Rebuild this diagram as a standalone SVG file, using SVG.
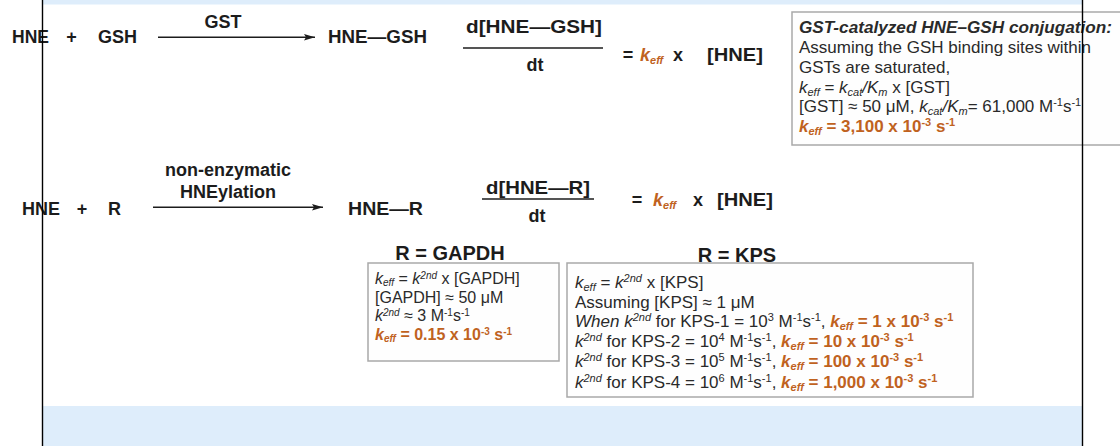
<svg xmlns="http://www.w3.org/2000/svg" width="1120" height="446" viewBox="0 0 1120 446">
<style>
text { font-family: "Liberation Sans", Arial, sans-serif; fill: #1c1c1c; }
.b { font-weight: bold; font-size: 18px; }
.bt { font-weight: bold; font-size: 20px; }
.t { font-size: 17px; fill: #2a2a2a; }
.g { font-size: 16px; fill: #2a2a2a; }
.o { fill: #c0621e; font-weight: bold; }
.i { font-style: italic; }
.s { font-size: 11px; }
.s2 { font-size: 10px; }
.box { fill: #fefefe; stroke: #a9a9a9; stroke-width: 1.5; }
.bar { stroke: #1c1c1c; stroke-width: 1.6; }
.arr { stroke: #1c1c1c; stroke-width: 1.4; fill: none; marker-end: url(#ah); }
.frame { stroke: #000; stroke-width: 1.4; }
</style>
<defs>
<marker id="ah" markerWidth="12" markerHeight="8" refX="11" refY="4" orient="auto" markerUnits="userSpaceOnUse">
<path d="M0,0.8 L11,4 L0,7.2 L2,4 Z" fill="#1c1c1c"/>
</marker>
</defs>
<rect width="1120" height="446" fill="#ffffff"/>
<rect x="43" y="0" width="1039" height="4.5" fill="#deedfb"/>
<rect x="43" y="406" width="1039" height="40" fill="#deedfb"/>

<g id="reaction1">
<text class="b" x="12" y="43" textLength="37" lengthAdjust="spacingAndGlyphs">HNE</text>
<text class="b" x="71.5" y="43" text-anchor="middle">+</text>
<text class="b" x="98" y="43" textLength="39" lengthAdjust="spacingAndGlyphs">GSH</text>
<text class="b" x="223" y="28" text-anchor="middle">GST</text>
<text class="b" x="328" y="43" textLength="99" lengthAdjust="spacingAndGlyphs">HNE—GSH</text>
</g>

<g id="rate1">
<text class="b" x="466" y="33" textLength="136" lengthAdjust="spacingAndGlyphs">d[HNE—GSH]</text>
<line class="bar" x1="463" y1="48" x2="603" y2="48"/>
<text class="b" x="535" y="71" text-anchor="middle">dt</text>
<text class="b" x="628" y="61" text-anchor="middle">=</text>
<text class="b o i" x="640" y="61">k<tspan class="s" dy="3">eff</tspan></text>
<text class="b" x="678" y="61" text-anchor="middle">x</text>
<text class="b" x="707" y="61" textLength="56" lengthAdjust="spacingAndGlyphs">[HNE]</text>
</g>

<g id="gst-box">
<rect class="box" x="792" y="12" width="340" height="133"/>
<text class="t i" x="799" y="33" font-weight="bold" fill="#1c1c1c" textLength="313" lengthAdjust="spacingAndGlyphs">GST-catalyzed HNE–GSH conjugation:</text>
<text class="t" x="799" y="53">Assuming the GSH binding sites within</text>
<text class="t" x="799" y="73">GSTs are saturated,</text>
<text class="t" x="799" y="93"><tspan class="i">k</tspan><tspan class="i s" dy="3">eff</tspan><tspan dy="-3"> = </tspan><tspan class="i">k</tspan><tspan class="i s" dy="3">cat</tspan><tspan class="i" dy="-3">/K</tspan><tspan class="i s" dy="3">m</tspan><tspan dy="-3"> x [GST]</tspan></text>
<text class="t" x="799" y="112">[GST] ≈ 50 μM, <tspan class="i">k</tspan><tspan class="i s" dy="3">cat</tspan><tspan class="i" dy="-3">/K</tspan><tspan class="i s" dy="3">m</tspan><tspan dy="-3">= 61,000 M</tspan><tspan class="s" dy="-6">-1</tspan><tspan dy="6">s</tspan><tspan class="s" dy="-6">-1</tspan></text>
<text class="t o" x="799" y="132"><tspan class="i">k</tspan><tspan class="i s" dy="3">eff</tspan><tspan dy="-3"> = 3,100 x 10</tspan><tspan class="s" dy="-6">-3</tspan><tspan dy="6"> s</tspan><tspan class="s" dy="-6">-1</tspan></text>
</g>

<g id="reaction2">
<text class="b" x="22" y="215" textLength="38" lengthAdjust="spacingAndGlyphs">HNE</text>
<text class="b" x="82" y="215" text-anchor="middle">+</text>
<text class="b" x="108" y="215">R</text>
<text class="b" x="228" y="176" text-anchor="middle">non-enzymatic</text>
<text class="b" x="228" y="198" text-anchor="middle">HNEylation</text>
<text class="b" x="348" y="215" textLength="75" lengthAdjust="spacingAndGlyphs">HNE—R</text>
</g>

<g id="rate2">
<text class="b" x="486" y="194" textLength="104" lengthAdjust="spacingAndGlyphs">d[HNE—R]</text>
<line class="bar" x1="482" y1="199" x2="594" y2="199"/>
<text class="b" x="537" y="222" text-anchor="middle">dt</text>
<text class="b" x="637" y="206" text-anchor="middle">=</text>
<text class="b o i" x="653" y="206">k<tspan class="s" dy="3">eff</tspan></text>
<text class="b" x="698" y="206" text-anchor="middle">x</text>
<text class="b" x="717" y="206" textLength="56" lengthAdjust="spacingAndGlyphs">[HNE]</text>
</g>

<g id="gapdh">
<text class="bt" x="450" y="260" text-anchor="middle">R = GAPDH</text>
<rect class="box" x="368" y="263" width="191" height="98"/>
<text class="g" x="375" y="284"><tspan class="i">k</tspan><tspan class="i s2" dy="2">eff</tspan><tspan dy="-2"> = </tspan><tspan class="i">k</tspan><tspan class="i s2" dy="-5">2nd</tspan><tspan dy="5"> x [GAPDH]</tspan></text>
<text class="g" x="375" y="303">[GAPDH] ≈ 50 μM</text>
<text class="g" x="375" y="321"><tspan class="i">k</tspan><tspan class="i s2" dy="-5">2nd</tspan><tspan dy="5"> ≈ 3 M</tspan><tspan class="s2" dy="-5">-1</tspan><tspan dy="5">s</tspan><tspan class="s2" dy="-5">-1</tspan></text>
<text class="g o" x="375" y="340"><tspan class="i">k</tspan><tspan class="i s2" dy="2">eff</tspan><tspan dy="-2"> = 0.15 x 10</tspan><tspan class="s2" dy="-5">-3</tspan><tspan dy="5"> s</tspan><tspan class="s2" dy="-5">-1</tspan></text>
</g>

<g id="kps">
<text class="bt" x="737" y="262" text-anchor="middle">R = KPS</text>
<rect class="box" x="567" y="263" width="406" height="134"/>
<text class="t" x="575" y="288"><tspan class="i">k</tspan><tspan class="i s" dy="3">eff</tspan><tspan dy="-3"> = </tspan><tspan class="i">k</tspan><tspan class="i s" dy="-6">2nd</tspan><tspan dy="6"> x [KPS]</tspan></text>
<text class="t" x="575" y="308">Assuming [KPS] ≈ 1 μM</text>
<text class="t" x="575" y="327"><tspan class="i">When k</tspan><tspan class="i s" dy="-6">2nd</tspan><tspan dy="6"> for KPS-1 = 10</tspan><tspan class="s" dy="-6">3</tspan><tspan dy="6"> M</tspan><tspan class="s" dy="-6">-1</tspan><tspan dy="6">s</tspan><tspan class="s" dy="-6">-1</tspan><tspan dy="6">, </tspan><tspan class="o i">k</tspan><tspan class="o i s" dy="3">eff</tspan><tspan class="o" dy="-3"> = 1 x 10</tspan><tspan class="o s" dy="-6">-3</tspan><tspan class="o" dy="6"> s</tspan><tspan class="o s" dy="-6">-1</tspan></text>
<text class="t" x="575" y="347"><tspan class="i">k</tspan><tspan class="i s" dy="-6">2nd</tspan><tspan dy="6"> for KPS-2 = 10</tspan><tspan class="s" dy="-6">4</tspan><tspan dy="6"> M</tspan><tspan class="s" dy="-6">-1</tspan><tspan dy="6">s</tspan><tspan class="s" dy="-6">-1</tspan><tspan dy="6">, </tspan><tspan class="o i">k</tspan><tspan class="o i s" dy="3">eff</tspan><tspan class="o" dy="-3"> = 10 x 10</tspan><tspan class="o s" dy="-6">-3</tspan><tspan class="o" dy="6"> s</tspan><tspan class="o s" dy="-6">-1</tspan></text>
<text class="t" x="575" y="367"><tspan class="i">k</tspan><tspan class="i s" dy="-6">2nd</tspan><tspan dy="6"> for KPS-3 = 10</tspan><tspan class="s" dy="-6">5</tspan><tspan dy="6"> M</tspan><tspan class="s" dy="-6">-1</tspan><tspan dy="6">s</tspan><tspan class="s" dy="-6">-1</tspan><tspan dy="6">, </tspan><tspan class="o i">k</tspan><tspan class="o i s" dy="3">eff</tspan><tspan class="o" dy="-3"> = 100 x 10</tspan><tspan class="o s" dy="-6">-3</tspan><tspan class="o" dy="6"> s</tspan><tspan class="o s" dy="-6">-1</tspan></text>
<text class="t" x="575" y="388"><tspan class="i">k</tspan><tspan class="i s" dy="-6">2nd</tspan><tspan dy="6"> for KPS-4 = 10</tspan><tspan class="s" dy="-6">6</tspan><tspan dy="6"> M</tspan><tspan class="s" dy="-6">-1</tspan><tspan dy="6">s</tspan><tspan class="s" dy="-6">-1</tspan><tspan dy="6">, </tspan><tspan class="o i">k</tspan><tspan class="o i s" dy="3">eff</tspan><tspan class="o" dy="-3"> = 1,000 x 10</tspan><tspan class="o s" dy="-6">-3</tspan><tspan class="o" dy="6"> s</tspan><tspan class="o s" dy="-6">-1</tspan></text>
</g>

<g id="connectors">
<line class="arr" x1="158" y1="37.3" x2="315" y2="37.3"/>
<line class="arr" x1="153" y1="207.3" x2="323" y2="207.3"/>
</g>

<g id="frame">
<line class="frame" x1="42.5" y1="0" x2="42.5" y2="446"/>
<line class="frame" x1="1082.5" y1="0" x2="1082.5" y2="446"/>
</g>
</svg>
